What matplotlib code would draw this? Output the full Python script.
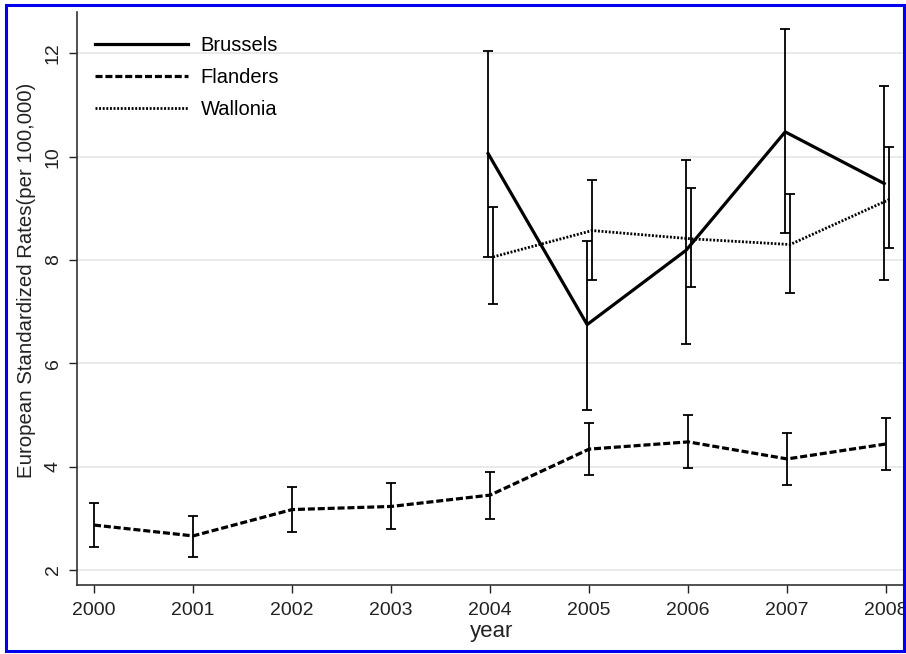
import numpy as np
import matplotlib.pyplot as plt
from matplotlib.patches import Rectangle

plt.rcParams['font.family'] = ['Liberation Sans', 'DejaVu Sans']

years = [2000, 2001, 2002, 2003, 2004, 2005, 2006, 2007, 2008]
flanders = [2.87, 2.66, 3.17, 3.23, 3.45, 4.34, 4.48, 4.15, 4.44]
flanders_lo = [2.45, 2.26, 2.74, 2.79, 2.99, 3.83, 3.97, 3.65, 3.94]
flanders_hi = [3.29, 3.05, 3.60, 3.68, 3.90, 4.85, 5.00, 4.65, 4.94]

years_b = [2004, 2005, 2006, 2007, 2008]
brussels = [10.06, 6.75, 8.19, 10.48, 9.48]
brussels_lo = [8.06, 5.10, 6.37, 8.52, 7.61]
brussels_hi = [12.04, 8.37, 9.94, 12.48, 11.37]

wallonia = [8.06, 8.57, 8.41, 8.30, 9.17]
wallonia_lo = [7.15, 7.61, 7.47, 7.36, 8.23]
wallonia_hi = [9.03, 9.55, 9.39, 9.27, 10.19]

yticks = [2, 4, 6, 8, 10, 12]

fig = plt.figure(figsize=(9.06, 6.54), dpi=100)
ax = fig.add_axes([77/906, 1 - 585/654, 1 - 77/906, (585 - 12)/654])

def draw(x, y, lo, hi, ls, lw, label):
    x = np.array(x, dtype=float)
    y = np.array(y)
    err = [y - np.array(lo), np.array(hi) - y]
    ax.errorbar(x, y, yerr=err, fmt='none', ecolor='black', elinewidth=1.3,
                capsize=3.5, capthick=1.3, zorder=3)
    ax.plot(x, y, color='black', linestyle=ls, linewidth=lw, label=label, zorder=4)

draw(np.array(years_b) - 0.02, brussels, brussels_lo, brussels_hi, '-', 2.3, 'Brussels')
draw(years, flanders, flanders_lo, flanders_hi, (0, (2.2, 0.9)), 2.3, 'Flanders')
draw(np.array(years_b) + 0.03, wallonia, wallonia_lo, wallonia_hi, (0, (0.7, 0.6)), 2.0, 'Wallonia')

ax.set_xlim(1999.828, 2008.2)
ax.set_ylim(1.71, 12.8)
ax.set_xticks(years)
ax.set_yticks(yticks)
ax.set_yticklabels([str(t) for t in yticks], rotation=90, va='center')
ax.tick_params(axis='both', labelsize=14, colors='#222222', length=6, width=1)
ax.tick_params(axis='x', pad=6)
ax.tick_params(axis='y', pad=5)
ax.grid(axis='y', color='#e6e6e6', linewidth=1.2)
ax.set_axisbelow(True)
for s in ['top', 'right']:
    ax.spines[s].set_visible(False)
for s in ['left', 'bottom']:
    ax.spines[s].set_color('#333333')
    ax.spines[s].set_linewidth(1.2)

ax.set_xlabel('year', fontsize=16, labelpad=2, color='#222222')
ax.set_ylabel('European Standardized Rates(per 100,000)', fontsize=14.7, color='#222222')
ax.yaxis.set_label_coords(-0.05, 0.532)

ax.legend(loc='upper left', frameon=False, fontsize=14.5, handlelength=4.6,
          handletextpad=0.65, labelspacing=0.65, bbox_to_anchor=(0.0, 0.99),
          borderaxespad=0.5)

fig.patches.append(Rectangle((6/906, 1 - 651/654), 898/906, 646/654,
                             transform=fig.transFigure, fill=False,
                             edgecolor='#0000ee', linewidth=2.2, zorder=10))

fig.savefig('out.png', dpi=100)
